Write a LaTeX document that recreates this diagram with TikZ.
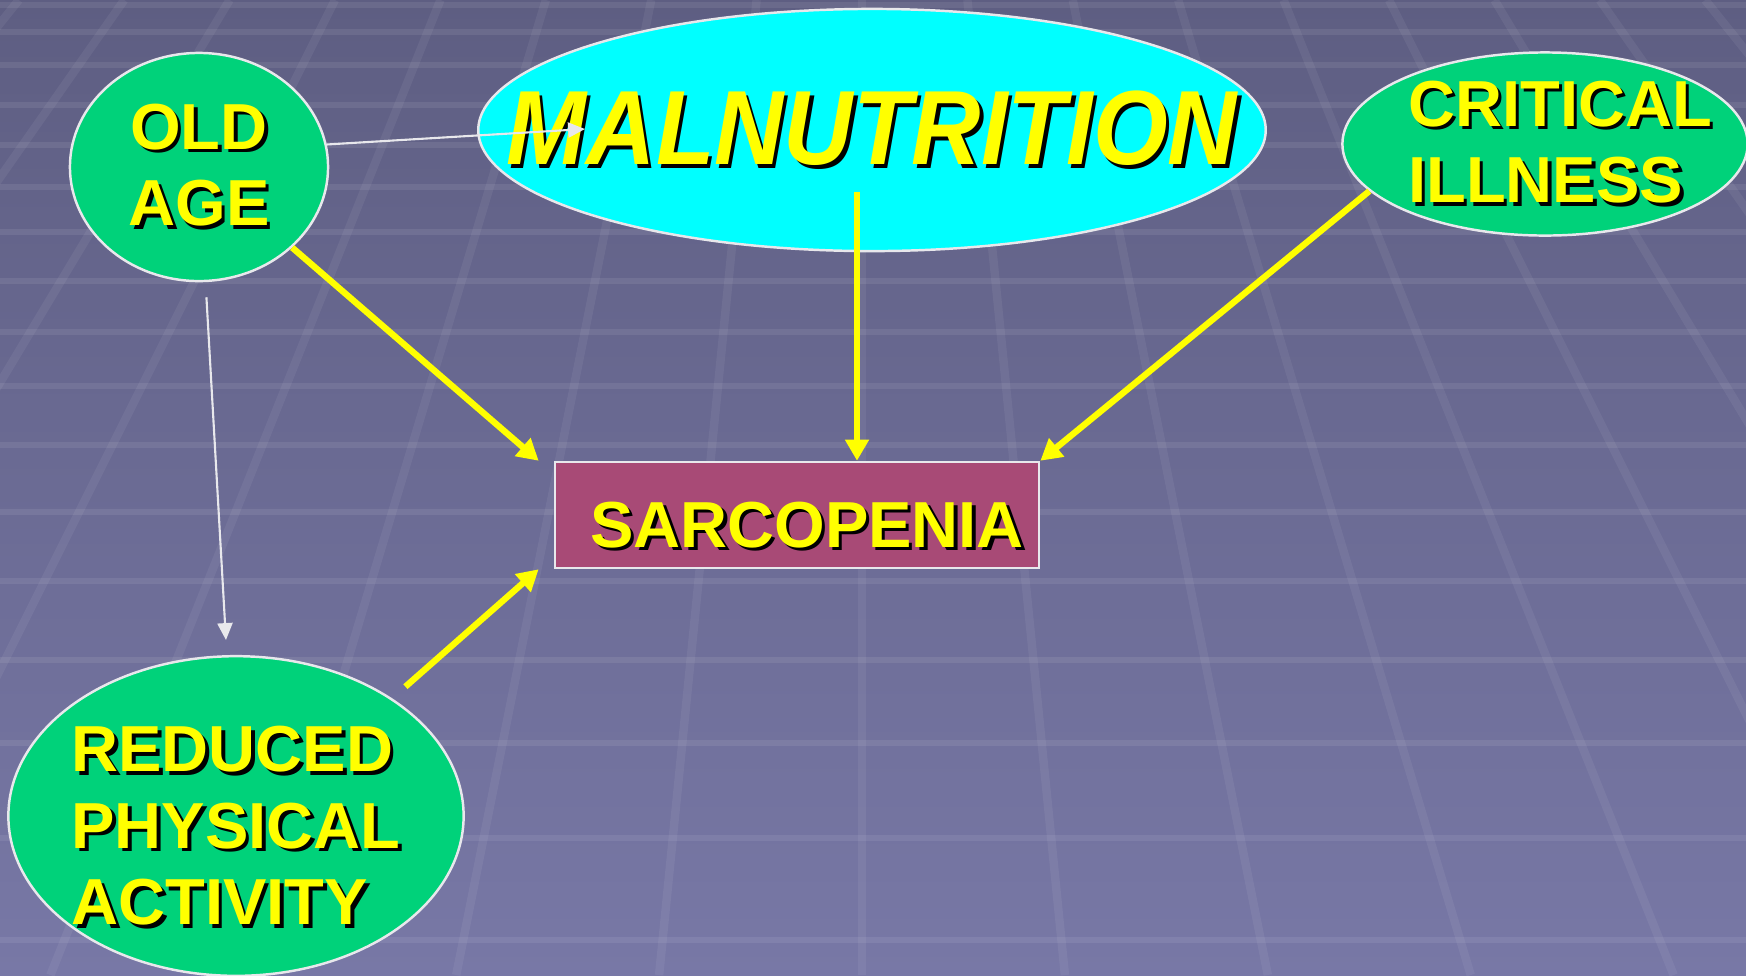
\documentclass[tikz,border=0pt]{standalone}
\usepackage{fontspec}
\setmainfont{Liberation Sans}
\usepackage{graphicx}
\usetikzlibrary{arrows.meta, shapes.geometric}
\definecolor{bgtop}{HTML}{5E5E82}
\definecolor{bgbot}{HTML}{7878A6}
\definecolor{leaf}{HTML}{00D27A}
\definecolor{aqua}{HTML}{00FFFF}
\definecolor{mauve}{HTML}{A84A76}
\definecolor{rim}{HTML}{E8E8EC}
\definecolor{txtyellow}{HTML}{FFFF00}
\newcommand{\shd}[1]{\makebox[0pt][l]{\kern1pt\raisebox{-1pt}{\color{black}#1}}#1}

\begin{document}
\begin{tikzpicture}[x=0.01cm, y=-0.01cm,
      tile/.style={white, opacity=0.08, line width=1.6pt},
      slant/.style={white, opacity=0.06, line width=2.4pt},
      cause/.style={ellipse, draw=rim, line width=0.7pt, fill=leaf, inner sep=0pt,
                    align=center, text=txtyellow, font=\fontsize{18.5}{21.8}\selectfont\bfseries},
      main/.style={cause, fill=aqua, inner xsep=-0.9cm,
                   font=\fontsize{30}{32}\selectfont\bfseries\itshape},
      effect/.style={rectangle, draw=rim, line width=0.7pt, fill=mauve, inner sep=0pt,
                     text=txtyellow, font=\fontsize{18.5}{21.8}\selectfont\bfseries},
      yarr/.style={-{Triangle[length=6pt, width=6.5pt]}, txtyellow, line width=1.8pt},
      warr/.style={-{Triangle[length=4.8pt, width=4.3pt]}, rim, line width=0.6pt}]
    \useasboundingbox (0,0) rectangle (1746,975);
    % background tiles
    \fill[top color=bgtop, bottom color=bgbot] (0,0) rectangle (1746,975);
    \begin{scope}
      \clip (0,0) rectangle (1746,975);
      \foreach \y in {5,32,65,105,145,187,232,281,332,386,445,512,581,660,743,838,940}
        \draw[tile] (0,\y) -- (1746,\y);
      \foreach \k in {-9,...,9}
        \draw[slant] ({862+105.4*\k},0) -- ({862+202.9*\k},975);
    \end{scope}
    % nodes
    \node[cause, minimum width=2.58cm, minimum height=2.28cm] (old) at (199,167) {\shd{OLD}\\\shd{AGE}};
    \node[main, minimum width=7.87cm, minimum height=2.42cm] (mal) at (872,130)
      {\scalebox{0.91}[1]{\shd{MALNUTRITION}}};
    \node[cause, align=left, inner xsep=-0.3cm, minimum width=4.05cm, minimum height=1.83cm] (crit) at (1545,144)
      {\hspace*{0.3cm}\shd{CRITICAL}\\\hspace*{0.3cm}\shd{ILLNESS}};
    \node[effect, text height=19.5pt, minimum width=4.84cm, minimum height=1.06cm] (sarc) at (797,515)
      {\hspace*{0.2cm}\shd{SARCOPENIA}};
    \node[cause, align=left, inner xsep=-0.1cm, minimum width=4.55cm, minimum height=3.14cm] (red) at (236,816)
      {\rule{0pt}{19.5pt}\shd{REDUCED}\\\shd{PHYSICAL}\\\shd{ACTIVITY}};
    % connectors
    \coordinate (malTip) at (585,129);
    \coordinate (malFoot) at (857,192);
    \draw[warr] (old.10) -- (malTip);
    \draw[warr, shorten <=4.3pt, shorten >=4.3pt] (old) -- (red);
    \draw[yarr] (old) -- ([xshift=-0.15cm]sarc.north west);
    \draw[yarr] (malFoot) -- (malFoot |- sarc.north);
    \draw[yarr] (crit.195) -- (sarc.north east);
    \draw[yarr, shorten <=5pt] (red.37) -- ([xshift=-0.15cm]sarc.south west);
  \end{tikzpicture}
\end{document}
